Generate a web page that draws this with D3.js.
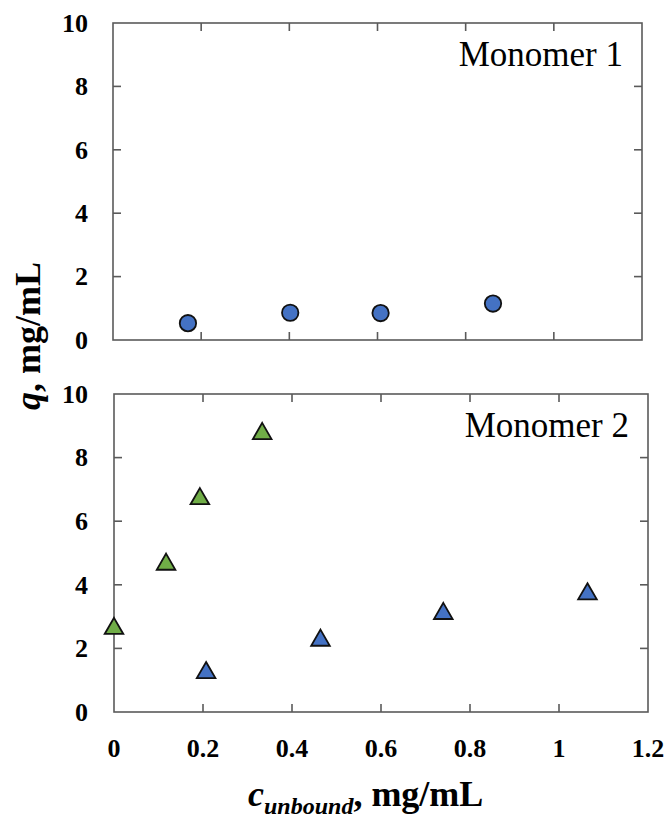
<!DOCTYPE html>
<html>
<head>
<meta charset="utf-8">
<script src="https://cdn.jsdelivr.net/npm/d3@7"></script>
<style>
  html, body { margin: 0; padding: 0; background: #fff; }
  svg { display: block; }
  text { font-family: "Liberation Serif", "Times New Roman", serif; }
</style>
</head>
<body>
<svg id="chart" width="668" height="818"></svg>
<script>
// Monomer 1: bound vs unbound concentration (circles)
const m1Unbound = [0.170, 0.402, 0.607, 0.862];
const m1Bound   = [0.53, 0.86, 0.85, 1.15];

// Monomer 2: two series of triangles
const m2GreenUnbound = [0.000, 0.117, 0.193, 0.333];
const m2GreenBound   = [2.67, 4.69, 6.75, 8.80];
const m2BlueUnbound  = [0.207, 0.464, 0.740, 1.064];
const m2BlueBound    = [1.28, 2.30, 3.14, 3.76];

const xTicks = [0, 0.2, 0.4, 0.6, 0.8, 1.0, 1.2];
const xTickLabels = ["0", "0.2", "0.4", "0.6", "0.8", "1", "1.2"];
const yTicks = [0, 2, 4, 6, 8, 10];
const yTickLabels = ["0", "2", "4", "6", "8", "10"];

const BLUE = "#4472c4";
const GREEN = "#70ad47";
const AXIS = "#5a5a5a";

const svg = d3.select("#chart");

const panels = [
  { x0: 113, x1: 642, y0: 23,  y1: 340, title: "Monomer 1", showX: false },
  { x0: 114, x1: 648, y0: 394, y1: 712, title: "Monomer 2", showX: true }
];

panels.forEach(p => {
  p.x = d3.scaleLinear().domain([0, 1.2]).range([p.x0, p.x1]);
  p.y = d3.scaleLinear().domain([0, 10]).range([p.y1, p.y0]);
  const g = svg.append("g");
  const tl = 8;

  // frame
  g.append("rect")
    .attr("x", p.x0).attr("y", p.y0)
    .attr("width", p.x1 - p.x0).attr("height", p.y1 - p.y0)
    .attr("fill", "none").attr("stroke", AXIS).attr("stroke-width", 1.6);

  // inward ticks on all four sides
  const inX = xTicks.filter((d, i) => i > 0 && i < xTicks.length - 1);
  const inY = yTicks.filter((d, i) => i > 0 && i < yTicks.length - 1);
  g.selectAll(".xtb").data(inX).join("line")
    .attr("x1", d => p.x(d)).attr("x2", d => p.x(d))
    .attr("y1", p.y1).attr("y2", p.y1 - tl)
    .attr("stroke", AXIS).attr("stroke-width", 1.6);
  g.selectAll(".xtt").data(inX).join("line")
    .attr("x1", d => p.x(d)).attr("x2", d => p.x(d))
    .attr("y1", p.y0).attr("y2", p.y0 + tl)
    .attr("stroke", AXIS).attr("stroke-width", 1.6);
  g.selectAll(".ytl").data(inY).join("line")
    .attr("y1", d => p.y(d)).attr("y2", d => p.y(d))
    .attr("x1", p.x0).attr("x2", p.x0 + tl)
    .attr("stroke", AXIS).attr("stroke-width", 1.6);
  g.selectAll(".ytr").data(inY).join("line")
    .attr("y1", d => p.y(d)).attr("y2", d => p.y(d))
    .attr("x1", p.x1).attr("x2", p.x1 - tl)
    .attr("stroke", AXIS).attr("stroke-width", 1.6);

  // y tick labels
  g.selectAll(".ylab").data(yTicks).join("text")
    .attr("x", 88).attr("y", d => p.y(d))
    .attr("dy", "0.34em")
    .attr("text-anchor", "end")
    .attr("font-weight", "bold")
    .attr("font-size", 26)
    .text((d, i) => yTickLabels[i]);

  if (p.showX) {
    g.selectAll(".xlab").data(xTicks).join("text")
      .attr("x", d => p.x(d)).attr("y", 757)
      .attr("text-anchor", "middle")
      .attr("font-weight", "bold")
      .attr("font-size", 26)
      .text((d, i) => xTickLabels[i]);
  }

  // panel title
  g.append("text")
    .attr("x", p.x1 - 19).attr("y", p.y0 + 43)
    .attr("text-anchor", "end")
    .attr("font-size", 35)
    .text(p.title);
});

// markers
const P1 = panels[0], P2 = panels[1];
const tri = d3.symbol().type(d3.symbolTriangle).size(150);

svg.append("g").selectAll("circle")
  .data(m1Unbound.map((d, i) => [d, m1Bound[i]]))
  .join("circle")
  .attr("cx", d => P1.x(d[0])).attr("cy", d => P1.y(d[1]))
  .attr("r", 8.2)
  .attr("fill", BLUE).attr("stroke", "#111").attr("stroke-width", 1.8);

function triangles(xs, ys, color) {
  svg.append("g").selectAll("path")
    .data(xs.map((d, i) => [d, ys[i]]))
    .join("path")
    .attr("d", tri)
    .attr("transform", d => `translate(${P2.x(d[0])},${P2.y(d[1]) + 1.5})`)
    .attr("fill", color).attr("stroke", "#111").attr("stroke-width", 1.8)
    .attr("stroke-linejoin", "miter");
}
triangles(m2GreenUnbound, m2GreenBound, GREEN);
triangles(m2BlueUnbound, m2BlueBound, BLUE);

// y axis title
const yt = svg.append("text")
  .attr("transform", "translate(40,336) rotate(-90)")
  .attr("text-anchor", "middle")
  .attr("font-weight", "bold")
  .attr("font-size", 36);
yt.append("tspan").attr("font-style", "italic").text("q");
yt.append("tspan").text(", mg/mL");

// x axis title
const xt = svg.append("text")
  .attr("x", 248).attr("y", 806)
  .attr("font-weight", "bold")
  .attr("font-size", 36);
xt.append("tspan").attr("font-style", "italic").text("c");
xt.append("tspan").attr("font-style", "italic").attr("font-size", 24)
  .attr("dy", 8).text("unbound");
xt.append("tspan").attr("dy", -8).text(", mg/mL");
</script>
</body>
</html>
